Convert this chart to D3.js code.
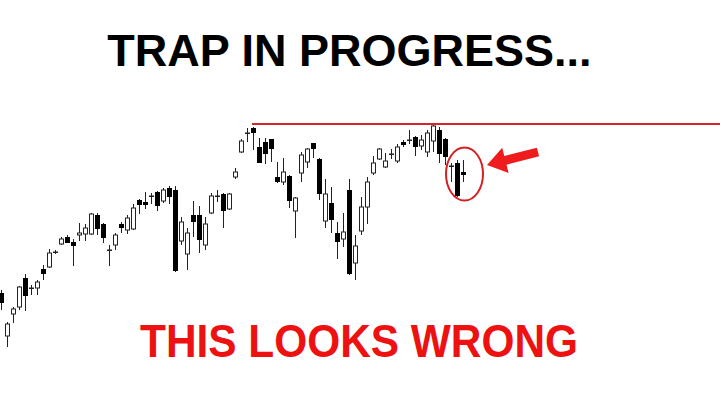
<!DOCTYPE html>
<html>
<head>
<meta charset="utf-8">
<script src="https://cdn.jsdelivr.net/npm/d3@7"></script>
<style>
  html, body { margin: 0; padding: 0; background: #fff; }
  svg { display: block; }
</style>
</head>
<body>
<svg id="chart" width="720" height="404"></svg>
<script>
// ---- data (price units) ----
const titleText = "TRAP IN PROGRESS...";
const footerText = "THIS LOOKS WRONG";

const openVals  = [111,68,90,97,126,116,116,135,137,152,160,167,162,169,170,170,189,180,154,159,
                   180,174,175,204,202,208,212,203,216,214,163,150,189,189,159,191,208,210,195,227,
                   252,271,276,257,262,265,227,222,228,193,231,242,261,245,183,201,171,165,214,141,
                   173,197,231,245,237,250,243,262,264,267,258,252,263,274,265,238,241,232];
const highVals  = [114,82,97,118,130,119,124,139,155,154,167,169,165,181,180,191,191,181,159,171,
                   182,189,200,205,212,211,213,216,218,218,187,176,203,198,187,211,214,211,211,236,
                   265,276,277,266,266,265,242,246,229,207,252,256,261,246,225,217,182,191,225,169,
                   207,227,248,256,251,255,260,264,274,268,269,274,279,277,266,241,244,244];
const lowVals   = [94,57,81,94,93,109,109,124,136,150,159,161,138,163,163,169,169,161,138,154,
                   171,170,174,190,195,200,193,201,200,132,159,134,167,151,154,190,202,176,194,225,
                   251,262,254,241,240,242,221,219,196,166,222,236,246,204,176,171,145,157,129,124,
                   169,180,229,244,236,245,241,257,260,248,254,247,252,241,239,222,207,222];
const closeVals = [101,80,95,117,108,116,122,130,151,152,165,161,158,171,176,190,175,166,154,169,
                   176,186,196,199,199,208,198,214,207,133,182,171,182,164,180,208,208,193,210,232,
                   263,271,271,241,250,255,222,232,203,206,249,255,255,210,210,184,162,172,130,158,
                   197,222,241,255,243,250,257,259,264,257,264,271,278,250,247,238,208,229];

const resistanceLevel = 280;   // red horizontal line
const resistanceStart = 42;    // candle index where the line begins
const trapCandles = [75, 77];  // candles circled in red

// ---- layout ----
const W = 720, H = 404;
const svg = d3.select("#chart");
const n = openVals.length;
const data = d3.range(n).map(i => ({
  i, o: openVals[i], h: highVals[i], l: lowVals[i], c: closeVals[i]
}));

const x = d3.scaleLinear().domain([0, n - 1]).range([1, 463]);
const y = d3.scaleLinear().domain([0, 404]).range([404, 0]);

// resistance line
svg.append("line")
  .attr("x1", x(resistanceStart) - 1).attr("x2", W)
  .attr("y1", y(resistanceLevel)).attr("y2", y(resistanceLevel))
  .attr("stroke", "#d42626").attr("stroke-width", 2);

// candles
const g = svg.append("g");
const cx = d => Math.round(x(d.i));
g.selectAll("line.wick").data(data).enter().append("line")
  .attr("class", "wick")
  .attr("x1", d => cx(d) + 0.5).attr("x2", d => cx(d) + 0.5)
  .attr("y1", d => y(d.h)).attr("y2", d => y(d.l))
  .attr("stroke", "#222").attr("stroke-width", 1);

g.selectAll("rect.body").data(data).enter().append("rect")
  .attr("class", "body")
  .each(function(d) {
    const top = y(Math.max(d.o, d.c));
    const bot = y(Math.min(d.o, d.c));
    const sel = d3.select(this);
    if (d.c < d.o) {
      sel.attr("x", cx(d) - 2).attr("width", 5)
        .attr("y", top).attr("height", Math.max(1.5, bot - top))
        .attr("fill", "#000");
    } else if (bot - top < 1.5) {
      sel.attr("x", cx(d) - 2).attr("width", 5)
        .attr("y", top - 0.5).attr("height", 1.5)
        .attr("fill", "#222");
    } else {
      sel.attr("x", cx(d) - 1.5).attr("width", 4)
        .attr("y", top).attr("height", bot - top)
        .attr("fill", "#fff").attr("stroke", "#222").attr("stroke-width", 1);
    }
  });

// red ellipse around trap candles
const trapHigh = d3.max(trapCandles.map(i => highVals[i]));
const trapLow = d3.min(trapCandles.map(i => lowVals[i]));
const ecx = (x(trapCandles[0]) + x(trapCandles[1])) / 2 + 7.5;
const ecy = (y(trapHigh) + y(trapLow)) / 2 + 3;
svg.append("ellipse")
  .attr("cx", ecx).attr("cy", ecy)
  .attr("rx", 18.5).attr("ry", 26.5)
  .attr("fill", "none").attr("stroke", "#d42020").attr("stroke-width", 2);

// red arrow pointing at the ellipse
const tip = [ecx + 22.5, ecy - 9];
const tail = [538, 152];
const ang = Math.atan2(tail[1] - tip[1], tail[0] - tip[0]) * 180 / Math.PI;
const len = Math.hypot(tail[0] - tip[0], tail[1] - tip[1]);
const headL = 19, headW = 13, shaftW = 4.5;
const arrowPts = [[0,0],[headL,-headW],[headL,-shaftW],[len,-shaftW],[len,shaftW],[headL,shaftW],[headL,headW]];
svg.append("polygon")
  .attr("points", arrowPts.map(p => p.join(",")).join(" "))
  .attr("transform", `translate(${tip[0]},${tip[1]}) rotate(${ang})`)
  .attr("fill", "#ee1c1c");

// texts
svg.append("text")
  .attr("x", 349.5).attr("y", 66)
  .attr("text-anchor", "middle")
  .attr("font-family", "'Liberation Sans', Arial, sans-serif")
  .attr("font-weight", "bold").attr("font-size", 45)
  .attr("fill", "#000")
  .text(titleText);

svg.append("text")
  .attr("x", 359).attr("y", 357)
  .attr("text-anchor", "middle")
  .attr("font-family", "'Liberation Sans', Arial, sans-serif")
  .attr("font-weight", "bold").attr("font-size", 47)
  .attr("textLength", 438).attr("lengthAdjust", "spacingAndGlyphs")
  .attr("fill", "#ee1111")
  .text(footerText);
</script>
</body>
</html>
